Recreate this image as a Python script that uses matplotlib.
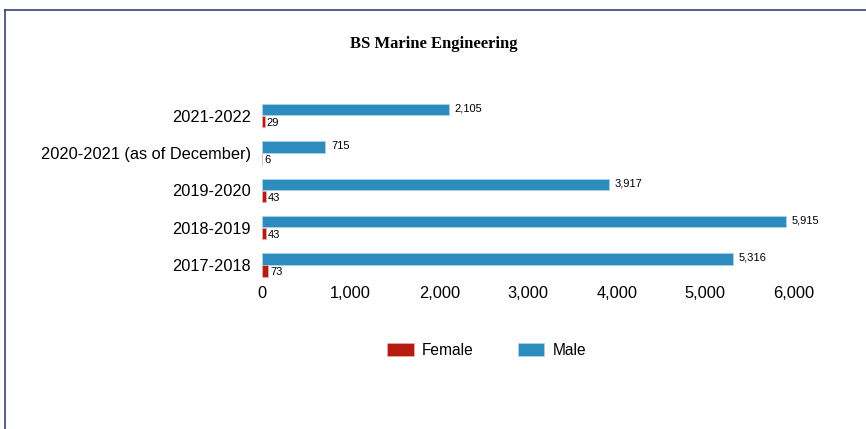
import numpy as np
import matplotlib.pyplot as plt
from matplotlib.lines import Line2D

# data, bottom to top as drawn
years = ["2017-2018", "2018-2019", "2019-2020", "2020-2021 (as of December)", "2021-2022"]
male = [5316, 5915, 3917, 715, 2105]
female = [73, 43, 43, 6, 29]

red = "#b51b10"
blue = "#2e8bbe"

fig = plt.figure(figsize=(8.66, 4.29), dpi=100)
ax = fig.add_axes([0.3025, 0.3387, 0.6144, 0.435])

y = np.arange(len(years))
h = 0.3
bm = ax.barh(y + 0.16, male, height=h, color=blue, edgecolor="#a9d3ec", linewidth=0.6, label="Male")
bf = ax.barh(y - 0.16, female, height=h, color=red, edgecolor="#e8a9a4", linewidth=0.6, label="Female")

for rect, v in zip(bm, male):
    ax.annotate(f"{v:,}", (rect.get_width(), rect.get_y() + rect.get_height() / 2),
                xytext=(4, 1), textcoords="offset points", fontsize=8,
                va="center", ha="left", family="Liberation Sans")
for rect, v in zip(bf, female):
    ax.annotate(f"{v:,}", (rect.get_width(), rect.get_y() + rect.get_height() / 2),
                xytext=(1.5, -1), textcoords="offset points", fontsize=8,
                va="center", ha="left", family="Liberation Sans")

ax.set_xlim(0, 6000)
ax.set_ylim(-0.5, 4.5)
ax.set_yticks(y)
ax.set_yticklabels(years)
ax.set_xticks(range(0, 6001, 1000))
ax.set_xticklabels([f"{t:,}" for t in range(0, 6001, 1000)])
ax.tick_params(length=0, labelsize=11.8)
ax.tick_params(axis="y", pad=8)
ax.tick_params(axis="x", pad=2)
for lab in ax.get_xticklabels() + ax.get_yticklabels():
    lab.set_family("Liberation Sans")
for s in ax.spines.values():
    s.set_visible(False)

fig.text(0.501, 0.897, "BS Marine Engineering", ha="center", va="center",
         family="Liberation Serif", fontweight="bold", fontsize=12)

handles = [bf, bm]
leg = fig.legend(handles, ["Female", "Male"], loc="center", bbox_to_anchor=(0.562, 0.183),
                 ncol=2, frameon=False, handlelength=1.7, handleheight=0.85,
                 handletextpad=0.55, columnspacing=2.8,
                 prop={"family": "Liberation Sans", "size": 11.2})

# page frame (left and top rules)
fig.add_artist(Line2D([0.0055, 0.0055], [0, 0.977], color="#3a4272", lw=1.2))
fig.add_artist(Line2D([0.0055, 1], [0.977, 0.977], color="#3a4272", lw=1.2))

fig.savefig("out.png", dpi=100)
